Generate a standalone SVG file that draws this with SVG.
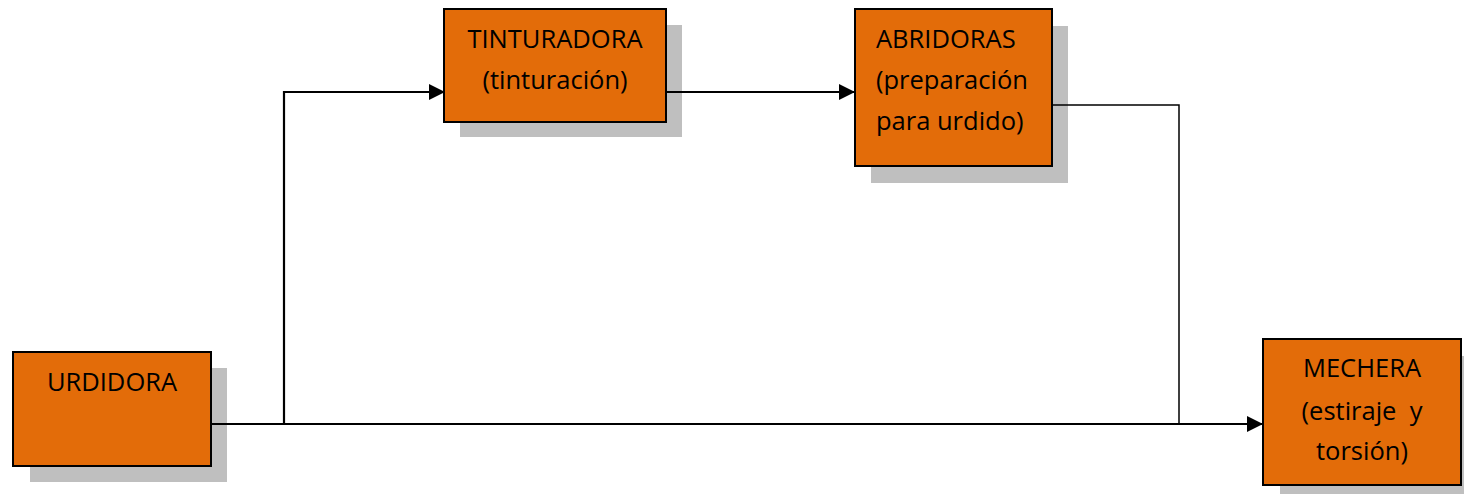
<svg xmlns="http://www.w3.org/2000/svg" width="1464" height="494" viewBox="0 0 1464 494">
<style>
.box{fill:#E36C09;stroke:#000;stroke-width:2}
.sh{fill:#BFBFBF}
.t{font-family:"Open Sans","Noto Sans",sans-serif;font-size:25.5px;fill:#000}
.c{text-anchor:middle}
.ln{fill:none;stroke:#000;stroke-width:2.2}
.thin{fill:none;stroke:#000;stroke-width:1.5}
</style>
<defs>
<marker id="ar" markerUnits="userSpaceOnUse" markerWidth="16" markerHeight="16" refX="16" refY="8" orient="auto">
<path d="M0,0 L16,8 L0,16 Z" fill="#000"/>
</marker>
</defs>
<rect width="1464" height="494" fill="#fff"/>
<g id="urdidora">
<rect class="sh" x="30" y="368" width="197" height="114"/>
<rect class="box" x="13" y="352" width="198" height="114"/>
<text class="t c" x="112" y="391">URDIDORA</text>
</g>
<g id="tinturadora">
<rect class="sh" x="460" y="25" width="222" height="112"/>
<rect class="box" x="444" y="9" width="222" height="113"/>
<text class="t c" x="555" y="48">TINTURADORA</text>
<text class="t c" x="555" y="89">(tinturación)</text>
</g>
<g id="abridoras">
<rect class="sh" x="871" y="26" width="197" height="157"/>
<rect class="box" x="855" y="9" width="197" height="157"/>
<text class="t" x="876" y="48">ABRIDORAS</text>
<text class="t" x="876" y="89">(preparación</text>
<text class="t" x="876" y="130">para urdido)</text>
</g>
<g id="mechera">
<rect class="sh" x="1280" y="356" width="200" height="150"/>
<rect class="box" x="1263" y="339" width="198" height="146"/>
<text class="t c" x="1362" y="377">MECHERA</text>
<text class="t c" x="1362" y="420" xml:space="preserve">(estiraje  y</text>
<text class="t c" x="1362" y="460">torsión)</text>
</g>
<g id="connectors">
<path class="thin" d="M1052,105 H1179 V424"/>
<path class="ln" d="M211,424 H1263" marker-end="url(#ar)"/>
<path class="ln" d="M284,424 V92 H445" marker-end="url(#ar)"/>
<path class="ln" d="M666,92 H855" marker-end="url(#ar)"/>
</g>
</svg>
